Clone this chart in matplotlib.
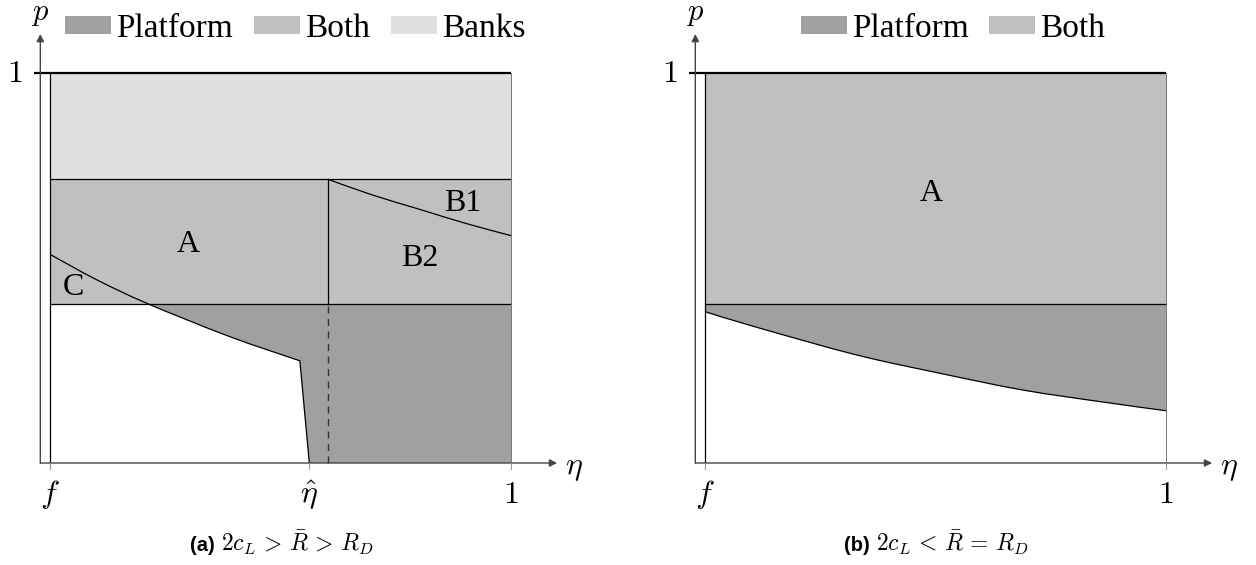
import matplotlib
matplotlib.use('Agg')
import matplotlib.pyplot as plt
from matplotlib.patches import Rectangle, Patch, PathPatch
from matplotlib.path import Path
import numpy as np

plt.rcParams['mathtext.fontset'] = 'cm'
SERIF = 'Liberation Serif'

# ---------------- data ----------------
eta_f, eta_one = 0.0, 1.0
p_zero, p_one = 0.0, 1.0
eta_hat = 0.5625            # position of eta-hat on the axis (a)
p_banks_low = 0.727         # Banks / Both boundary (a)
p_both_low = 0.408          # Both / Platform boundary (a) and (b)
eta_split = 0.604           # vertical boundary A | B (a)

# boundary curve of region C / white region (a)
c_eta = [0.0, 0.101, 0.213, 0.390, 0.542]
c_p = [0.535, 0.470, 0.408, 0.324, 0.262]

# B1 / B2 boundary (a)
b_eta = [0.604, 0.700, 0.803, 0.900, 1.0]
b_p = [0.727, 0.687, 0.650, 0.615, 0.583]

# Platform lower boundary (b)
pb_eta = [0.0, 0.112, 0.329, 0.510, 0.690, 0.871, 1.0]
pb_p = [0.388, 0.348, 0.277, 0.230, 0.187, 0.155, 0.134]

legend_a = ['Platform', 'Both', 'Banks']
legend_b = ['Platform', 'Both']
captions = [(r'(a)', r'$2c_L \,>\, \bar{R} \,>\, R_D$'),
            (r'(b)', r'$2c_L \,<\, \bar{R} \,=\, R_D$')]
xtick_a = [(eta_f, r'$f$'), (eta_hat, r'$\hat{\eta}$'), (eta_one, r'$1$')]
xtick_b = [(eta_f, r'$f$'), (eta_one, r'$1$')]
labels_a = [('A', 0.299, 0.559), ('C', 0.050, 0.451), ('B1', 0.896, 0.666), ('B2', 0.803, 0.525)]
labels_b = [('A', 0.490, 0.692)]

# ---------------- styling ----------------
C_PLAT = '#a0a0a0'
C_BOTH = '#c0c0c0'
C_BANK = '#e0e0e0'
AX_COL = '#444444'
LW = 0.9

W, H = 1256, 565
fig = plt.figure(figsize=(W / 100, H / 100), dpi=100)

XL = (-0.1, 1.18)
YL = (-0.25, 1.18)
sx, sy = 461.0, 390.0   # pixels per data unit


def bezier_segments(xs, ys):
    """Smooth (Catmull-Rom) cubic segments through the read points."""
    pts = np.column_stack([xs, ys]).astype(float)
    n = len(pts)
    segs = []
    for i in range(n - 1):
        p0 = pts[i - 1] if i > 0 else pts[i]
        p1, p2 = pts[i], pts[i + 1]
        p3 = pts[i + 2] if i + 2 < n else pts[i + 1]
        segs.append((p1, p1 + (p2 - p0) / 6.0, p2 - (p3 - p1) / 6.0, p2))
    return segs


def curve_path(segs, start=True):
    verts, codes = [], []
    if start:
        verts.append(segs[0][0]); codes.append(Path.MOVETO)
    for s in segs:
        verts += [s[1], s[2], s[3]]
        codes += [Path.CURVE4] * 3
    return verts, codes


def make_axes(f_px):
    left = f_px + XL[0] * sx
    width = (XL[1] - XL[0]) * sx
    bottom_px_from_top = 463 - YL[0] * sy
    height = (YL[1] - YL[0]) * sy
    ax = fig.add_axes([left / W, (H - bottom_px_from_top) / H, width / W, height / H])
    ax.set_xlim(*XL)
    ax.set_ylim(*YL)
    ax.axis('off')
    return ax


def draw_axes(ax, xticks):
    ox = -0.021
    ax.annotate('', xy=(1.1, 0), xytext=(ox, 0),
                arrowprops=dict(arrowstyle='-|>', color=AX_COL, lw=1.0,
                                mutation_scale=11, shrinkA=0, shrinkB=0), zorder=6)
    ax.annotate('', xy=(ox, 1.1), xytext=(ox, 0),
                arrowprops=dict(arrowstyle='-|>', color=AX_COL, lw=1.0,
                                mutation_scale=11, shrinkA=0, shrinkB=0), zorder=6)
    ax.text(1.117, -0.012, r'$\eta$', fontsize=23, ha='left', va='center')
    ax.text(ox, 1.136, r'$p$', fontsize=22, ha='center', va='baseline')
    ax.text(-0.06, p_one, r'$1$', fontsize=23, ha='right', va='center')
    ax.plot([ox - 0.013, eta_one], [p_one, p_one], color='black', lw=1.6, zorder=5,
            solid_capstyle='butt')
    for x, lab in xticks:
        ax.plot([x, x], [-0.016, 0], color='#999999', lw=0.8, zorder=6)
        ax.text(x, -0.1026, lab, fontsize=23, ha='center', va='baseline')
    ax.plot([eta_f, eta_f], [p_zero, p_one], color='black', lw=LW, zorder=5)
    ax.plot([eta_one, eta_one], [p_zero, p_one], color='#777777', lw=0.7, zorder=5)


def caption(ax, bold, math):
    ax.text(0.358, -0.2256, bold, fontsize=14.5, fontweight='bold',
            family='Liberation Sans', ha='right', va='baseline')
    ax.text(0.370, -0.2256, math, fontsize=17, ha='left', va='baseline')


def legend(ax, names, colors, cx):
    handles = [Patch(facecolor=c, edgecolor='none', label=n) for n, c in zip(names, colors)]
    ax.legend(handles=handles, loc='center', bbox_to_anchor=(cx, 1.113),
              bbox_transform=ax.transData, ncol=len(names), frameon=False,
              prop={'family': SERIF, 'size': 24}, handlelength=1.38,
              handleheight=0.45, handletextpad=0.15, columnspacing=0.63,
              borderpad=0, borderaxespad=0)


# ---------------- panel (a) ----------------
ax = make_axes(50)
ax.add_patch(Rectangle((eta_f, p_banks_low), eta_one - eta_f, p_one - p_banks_low,
                       facecolor=C_BANK, edgecolor='none', zorder=1))
ax.add_patch(Rectangle((eta_f, p_both_low), eta_one - eta_f, p_banks_low - p_both_low,
                       facecolor=C_BOTH, edgecolor='none', zorder=1))

c_segs = bezier_segments(c_eta, c_p)
k = next(i for i, q in enumerate(c_p) if q <= p_both_low)   # curve meets the Both/Platform line
v, cds = curve_path(c_segs[k:])
v = [np.array([c_eta[k], c_p[k]])] + v[1:]
v += [(eta_hat, p_zero), (eta_one, p_zero), (eta_one, p_both_low), (0, 0)]
cds += [Path.LINETO, Path.LINETO, Path.LINETO, Path.CLOSEPOLY]
ax.add_patch(PathPatch(Path(v, cds), facecolor=C_PLAT, edgecolor='none', zorder=1))

ax.plot([eta_f, eta_one], [p_banks_low, p_banks_low], color='black', lw=LW, zorder=4)
ax.plot([eta_f, eta_one], [p_both_low, p_both_low], color='black', lw=LW, zorder=4)
ax.plot([eta_split, eta_split], [p_both_low, p_banks_low], color='black', lw=LW, zorder=4)
ax.plot([eta_split, eta_split], [p_zero, p_both_low], color='#333333', lw=1.0,
        ls=(0, (5, 4)), zorder=4)
v, cds = curve_path(c_segs)
v += [(eta_hat, p_zero)]
cds += [Path.LINETO]
ax.add_patch(PathPatch(Path(v, cds), facecolor='none', edgecolor='black', lw=LW, zorder=4))
v, cds = curve_path(bezier_segments(b_eta, b_p))
ax.add_patch(PathPatch(Path(v, cds), facecolor='none', edgecolor='black', lw=LW, zorder=4))
for t, x, y in labels_a:
    ax.text(x, y, t, fontsize=23, family=SERIF, ha='center', va='center', zorder=7)
draw_axes(ax, xtick_a)
legend(ax, legend_a, [C_PLAT, C_BOTH, C_BANK], 0.5325)
caption(ax, *captions[0])

# ---------------- panel (b) ----------------
bx = make_axes(705)
bx.add_patch(Rectangle((eta_f, p_both_low), eta_one - eta_f, p_one - p_both_low,
                       facecolor=C_BOTH, edgecolor='none', zorder=1))
pb_segs = bezier_segments(pb_eta, pb_p)
v, cds = curve_path(pb_segs)
fv = [(eta_f, p_both_low)] + v + [(eta_one, p_both_low), (0, 0)]
fc = [Path.MOVETO, Path.LINETO] + cds[1:] + [Path.LINETO, Path.CLOSEPOLY]
bx.add_patch(PathPatch(Path(fv, fc), facecolor=C_PLAT, edgecolor='none', zorder=1))
bx.plot([eta_f, eta_one], [p_both_low, p_both_low], color='black', lw=LW, zorder=4)
bx.add_patch(PathPatch(Path(v, cds), facecolor='none', edgecolor='black', lw=LW, zorder=4))
for t, x, y in labels_b:
    bx.text(x, y, t, fontsize=23, family=SERIF, ha='center', va='center', zorder=7)
draw_axes(bx, xtick_b)
legend(bx, legend_b, [C_PLAT, C_BOTH], 0.538)
caption(bx, *captions[1])

fig.savefig('out.png', dpi=100)
